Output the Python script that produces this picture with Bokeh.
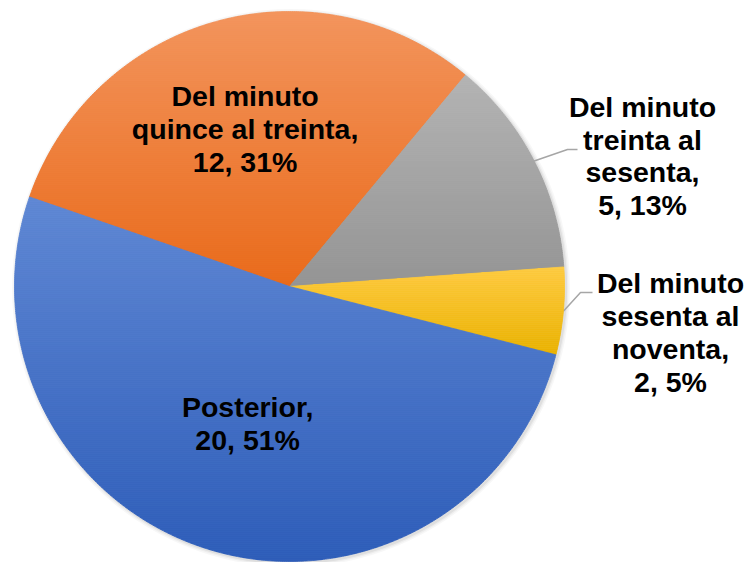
import math
from bokeh.plotting import figure
from bokeh.models import Range1d
from bokeh.embed import file_html
from bokeh.resources import INLINE
from bokeh.core.properties import value

# ---------------- data ----------------
categories = ["Del minuto quince al treinta", "Del minuto treinta al sesenta",
              "Del minuto sesenta al noventa", "Posterior"]
values = [12, 5, 2, 20]
label_names = [["Del minuto", "quince al treinta,"],
               ["Del minuto", "treinta al", "sesenta,"],
               ["Del minuto", "sesenta al", "noventa,"],
               ["Posterior,"]]

# ---------------- style / layout ----------------
top_colors = ["#F3945C", "#B3B3B3", "#FFCB40", "#5F88D4"]
bot_colors = ["#E96A1A", "#949494", "#EAB200", "#2E5DB9"]
first_slice_angle = 289.0          # degrees clockwise from 12 o'clock
W, H = 751, 562
OFF = 0
CX, CY_S, R = 289.0, 286.0, 275.0   # pie centre (screen px) and radius
inside_r = [0.60, None, None, 0.53]
outside_pos = [None, (642, 154.5), (670, 330), None]   # screen px
label_up = [-1, -1, -2, 3]                              # screen px nudge upward
elbow_pts = [None, [(567, 149), (577, 149)], [(580, 292), (592, 292)], None]


def sy(y_screen):                   # screen y -> data y
    return (H + 2 * OFF) - y_screen


CY = sy(CY_S)


def cw_xy(theta_deg, r):
    t = math.radians(theta_deg)
    return CX + r * math.sin(t), CY + r * math.cos(t)


def hexrgb(h):
    h = h.lstrip("#")
    return tuple(int(h[i:i + 2], 16) for i in (0, 2, 4))


def mix(c1, c2, t):
    a, b = hexrgb(c1), hexrgb(c2)
    return "#%02x%02x%02x" % tuple(int(round(a[i] + (b[i] - a[i]) * t)) for i in range(3))


def clip_half(pts, keep, yc):
    out = []
    n = len(pts)
    for i in range(n):
        cur, prev = pts[i], pts[i - 1]
        kc, kp = keep(cur), keep(prev)
        if kc:
            if not kp:
                t = (yc - prev[1]) / (cur[1] - prev[1])
                out.append((prev[0] + t * (cur[0] - prev[0]), yc))
            out.append(cur)
        elif kp:
            t = (yc - prev[1]) / (cur[1] - prev[1])
            out.append((prev[0] + t * (cur[0] - prev[0]), yc))
    return out


p = figure(width=W, height=H, output_backend="svg", toolbar_location=None,
           x_range=Range1d(OFF, W + OFF), y_range=Range1d(OFF, H + OFF),
           x_axis_location=None, y_axis_location=None, min_border=0)
p.grid.visible = False
p.outline_line_color = None
p.background_fill_color = "white"
p.border_fill_color = "white"

# soft shadow
for dr, a in [(4, 0.03), (2.5, 0.04), (1.2, 0.06)]:
    p.circle(x=[CX + 1.5], y=[CY - 1.5], radius=R + dr, fill_color="black",
             fill_alpha=a, line_color=None)

total = sum(values)
xs, ys, cols = [], [], []
label_x, label_y, label_t = [], [], []
ang = first_slice_angle
for i, v in enumerate(values):
    span = v / total * 360.0
    a0, a1 = ang, ang + span
    n = max(8, int(span / 0.4))
    poly = [(CX, CY)] + [cw_xy(a0 + (a1 - a0) * k / n, R) for k in range(n + 1)]
    ymin = min(pt[1] for pt in poly)
    ymax = max(pt[1] for pt in poly)
    step = 2.0
    yb = ymin
    while yb < ymax:
        yt = min(yb + step, ymax)
        band = clip_half(poly, lambda q: q[1] >= yb, yb)
        if band:
            band = clip_half(band, lambda q: q[1] <= yt, yt)
        if len(band) >= 3:
            tfrac = (ymax - (yb + yt) / 2) / (ymax - ymin)
            xs.append([q[0] for q in band])
            ys.append([q[1] for q in band])
            cols.append(mix(top_colors[i], bot_colors[i], tfrac))
        yb = yt
    mid = (a0 + a1) / 2
    pct = round(v / total * 100)
    txt = "\n".join(label_names[i] + [f"{v}, {pct}%"])
    if inside_r[i] is not None:
        lx, ly = cw_xy(mid, inside_r[i] * R)
    else:
        lx, ly = outside_pos[i][0], sy(outside_pos[i][1])
        sx0, sy0 = cw_xy(mid, R)
        lxs = [sx0] + [e[0] for e in elbow_pts[i]]
        lys = [sy0] + [sy(e[1]) for e in elbow_pts[i]]
        p.line(lxs, lys, line_color="#A6A6A6", line_width=1.5)
    label_x.append(lx)
    label_y.append(ly + label_up[i])
    label_t.append(txt)
    ang = a1

p.patches(xs, ys, fill_color=cols, line_color=cols, line_width=0.8)

p.text(x=label_x, y=label_y, text=label_t, text_font=value("Liberation Sans"),
       text_font_style="bold", text_font_size="28.5px", text_align="center",
       text_baseline="middle", text_line_height=1.03, text_color="#000000")

open("out.html", "w").write(file_html(p, INLINE))
